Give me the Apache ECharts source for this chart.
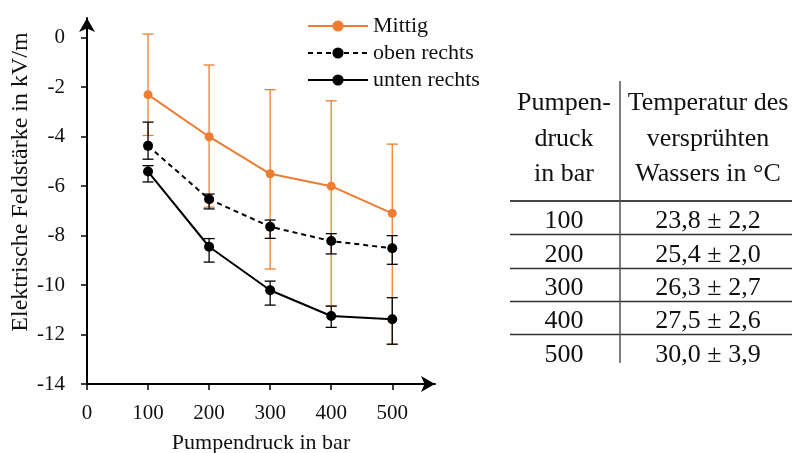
<!DOCTYPE html>
<html>
<head>
<meta charset="utf-8">
<script src="https://cdn.jsdelivr.net/npm/echarts@6/dist/echarts.min.js"></script>
<style>
  html, body { margin: 0; padding: 0; background: #fff; }
  #chart { width: 792px; height: 453px; }
</style>
</head>
<body>
<div id="chart"></div>
<script>
// Measurement positions (pump pressure in bar)
const pressures = [100, 200, 300, 400, 500];

// Electric field strength in kV/m with error bar bounds
const mittig      = [-2.30, -4.00, -5.50, -6.00, -7.10];
const mittigHigh  = [0.15, -1.10, -2.10, -2.55, -4.30];
const mittigLow   = [-3.95, -6.85, -9.35, -10.85, -12.40];

const obenRechts     = [-4.37, -6.53, -7.64, -8.22, -8.51];
const obenRechtsHigh = [-3.41, -6.32, -7.37, -7.92, -8.00];
const obenRechtsLow  = [-4.91, -6.92, -8.11, -8.74, -9.16];

const untenRechts     = [-5.41, -8.45, -10.21, -11.25, -11.38];
const untenRechtsHigh = [-5.17, -8.12, -9.84, -10.85, -10.51];
const untenRechtsLow  = [-5.83, -9.07, -10.81, -11.71, -12.39];

// Axis tick values
const xTicks = [0, 100, 200, 300, 400, 500];
const yTicks = [-14, -12, -10, -8, -6, -4, -2, 0];

// Table: water temperature per pump pressure
const tableHeadLeft  = ['Pumpen-', 'druck', 'in bar'];
const tableHeadRight = ['Temperatur des', 'versprühten', 'Wassers in °C'];
const tablePressure  = ['100', '200', '300', '400', '500'];
const tableTemp      = ['23,8 ± 2,2', '25,4 ± 2,0', '26,3 ± 2,7', '27,5 ± 2,6', '30,0 ± 3,9'];

const FONT = '"Liberation Serif", "DejaVu Serif", serif';
const ORANGE = '#ED7D31';
const TEXT = '#111';

const pairs = (xs, ys) => xs.map((x, i) => [x, ys[i]]);
const errData = (lo, hi) => pressures.map((x, i) => [x, lo[i], hi[i]]);

function errorBars(color) {
  return function (params, api) {
    const x = api.value(0);
    const lo = api.coord([x, api.value(1)]);
    const hi = api.coord([x, api.value(2)]);
    const w = 5.5;
    const style = { stroke: color, lineWidth: 1.3 };
    return {
      type: 'group',
      children: [
        { type: 'line', shape: { x1: lo[0], y1: lo[1], x2: hi[0], y2: hi[1] }, style },
        { type: 'line', shape: { x1: lo[0] - w, y1: lo[1], x2: lo[0] + w, y2: lo[1] }, style },
        { type: 'line', shape: { x1: hi[0] - w, y1: hi[1], x2: hi[0] + w, y2: hi[1] }, style }
      ]
    };
  };
}

// Table drawn as graphic elements
const tbl = {
  colLine: 620, left: 510, right: 792,
  headY: [103, 139, 174],
  leftCx: 564, rightCx: 708,
  topRule: 201, rowH: 33.3, textDy: 4,
  vTop: 81, vBottom: 363,
  font: '26px ' + FONT
};
const graphics = [];
tableHeadLeft.forEach((t, i) => graphics.push({
  type: 'text', x: tbl.leftCx, y: tbl.headY[i],
  style: { text: t, font: tbl.font, fill: TEXT, align: 'center', verticalAlign: 'middle' }
}));
tableHeadRight.forEach((t, i) => graphics.push({
  type: 'text', x: tbl.rightCx, y: tbl.headY[i],
  style: { text: t, font: tbl.font, fill: TEXT, align: 'center', verticalAlign: 'middle' }
}));
graphics.push({
  type: 'line', shape: { x1: tbl.left, y1: tbl.topRule, x2: tbl.right, y2: tbl.topRule },
  style: { stroke: '#444', lineWidth: 2 }
});
tablePressure.forEach((p, i) => {
  const cy = tbl.topRule + tbl.rowH * (i + 0.5) + tbl.textDy;
  graphics.push({
    type: 'text', x: tbl.leftCx, y: cy,
    style: { text: p, font: tbl.font, fill: TEXT, align: 'center', verticalAlign: 'middle' }
  });
  graphics.push({
    type: 'text', x: tbl.rightCx, y: cy,
    style: { text: tableTemp[i], font: tbl.font, fill: TEXT, align: 'center', verticalAlign: 'middle' }
  });
  if (i < tablePressure.length - 1) {
    const ly = Math.round(tbl.topRule + tbl.rowH * (i + 1)) + 0.5;
    graphics.push({
      type: 'line', shape: { x1: tbl.left, y1: ly, x2: tbl.right, y2: ly },
      style: { stroke: '#333', lineWidth: 1.5 }
    });
  }
});
graphics.push({
  type: 'line', shape: { x1: tbl.colLine, y1: tbl.vTop, x2: tbl.colLine, y2: tbl.vBottom },
  style: { stroke: '#555', lineWidth: 1.5 }
});

// Rotated y-axis title
graphics.push({
  type: 'text', x: 21, y: 182, rotation: Math.PI / 2,
  style: { text: 'Elektrische Feldstärke in kV/m', font: '24px ' + FONT, fill: TEXT, align: 'center', verticalAlign: 'middle' }
});

const chart = echarts.init(document.getElementById('chart'), null, { renderer: 'canvas' });
chart.setOption({
  animation: false,
  backgroundColor: '#fff',
  textStyle: { fontFamily: FONT },
  grid: { left: 87, right: 357, top: 18, bottom: 69, containLabel: false, outerBoundsMode: 'none' },
  legend: {
    orient: 'vertical', left: 302, top: 10, itemWidth: 60, itemHeight: 14, itemGap: 5,
    data: ['Mittig', 'oben rechts', 'unten rechts'],
    textStyle: { fontFamily: FONT, fontSize: 22, color: TEXT }
  },
  xAxis: {
    type: 'value', min: 0, max: 570,
    name: 'Pumpendruck in bar', nameLocation: 'middle', nameGap: 48,
    nameTextStyle: { fontFamily: FONT, fontSize: 22, color: TEXT },
    axisLine: { onZero: false, lineStyle: { color: '#000', width: 2 }, symbol: ['none', 'arrow'], symbolSize: [12, 14] },
    axisTick: { show: true, length: 6, lineStyle: { color: '#000', width: 1.5 }, customValues: xTicks },
    axisLabel: { fontFamily: FONT, fontSize: 21, color: TEXT, margin: 19, customValues: xTicks },
    splitLine: { show: false }
  },
  yAxis: {
    type: 'value', min: -14, max: 0.8,
    axisLine: { onZero: false, lineStyle: { color: '#000', width: 2 }, symbol: ['none', 'arrow'], symbolSize: [12, 14] },
    axisTick: { show: true, length: 6, lineStyle: { color: '#000', width: 1.5 }, customValues: yTicks },
    axisLabel: { fontFamily: FONT, fontSize: 21, color: TEXT, margin: 22, customValues: yTicks },
    splitLine: { show: false }
  },
  graphic: graphics,
  series: [
    {
      name: 'Mittig-Fehler', type: 'custom', z: 1, silent: true,
      renderItem: errorBars(ORANGE), data: errData(mittigLow, mittigHigh)
    },
    {
      name: 'Mittig', type: 'line', z: 2, data: pairs(pressures, mittig),
      color: ORANGE, symbol: 'circle', symbolSize: 9,
      lineStyle: { color: ORANGE, width: 2 }, itemStyle: { color: ORANGE }
    },
    {
      name: 'oben-Fehler', type: 'custom', z: 3, silent: true,
      renderItem: errorBars('#000'), data: errData(obenRechtsLow, obenRechtsHigh)
    },
    {
      name: 'unten-Fehler', type: 'custom', z: 3, silent: true,
      renderItem: errorBars('#000'), data: errData(untenRechtsLow, untenRechtsHigh)
    },
    {
      name: 'oben rechts', type: 'line', z: 4, data: pairs(pressures, obenRechts),
      color: '#000', symbol: 'circle', symbolSize: 10,
      lineStyle: { color: '#000', width: 2, type: [5, 4] }, itemStyle: { color: '#000' }
    },
    {
      name: 'unten rechts', type: 'line', z: 4, data: pairs(pressures, untenRechts),
      color: '#000', symbol: 'circle', symbolSize: 10,
      lineStyle: { color: '#000', width: 2 }, itemStyle: { color: '#000' }
    }
  ]
});
</script>
</body>
</html>
